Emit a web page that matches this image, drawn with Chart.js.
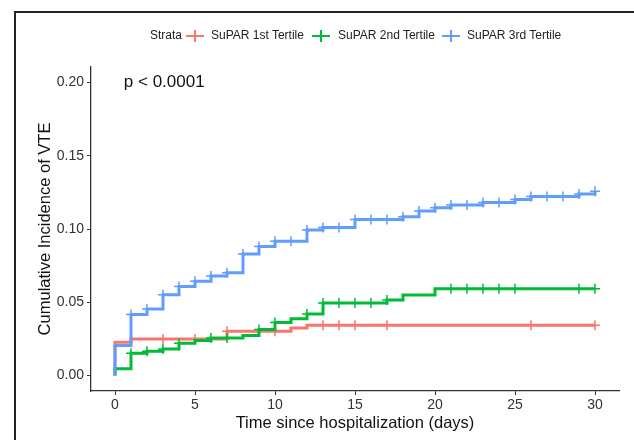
<!DOCTYPE html>
<html lang="en">
<head>
    <meta charset="UTF-8">
    <title>Cumulative Incidence of VTE by SuPAR Tertile</title>
    <script src="https://cdn.jsdelivr.net/npm/chart.js"></script>
    <style>
        body {
            margin: 0;
            background: #fff;
            font-family: "Liberation Sans", Arial, sans-serif;
        }
        .wrap {
            position: relative;
            width: 634px;
            height: 440px;
            overflow: hidden;
        }
        .frame {
            position: absolute;
            left: 14px;
            top: 11px;
            width: 700px;
            height: 500px;
            border-left: 2px solid #222;
            border-top: 2px solid #222;
        }
        .legend {
            position: absolute;
            top: 28px;
            left: 0;
            font-size: 12px;
            color: #222;
        }
        .legend span {
            position: absolute;
            white-space: nowrap;
        }
        .key {
            width: 18px;
            height: 16px;
        }
        .key::before {
            content: "";
            position: absolute;
            left: 0;
            top: 7px;
            width: 18px;
            height: 2px;
            background: var(--c);
        }
        .key::after {
            content: "";
            position: absolute;
            left: 8px;
            top: 2px;
            width: 2px;
            height: 12px;
            background: var(--c);
        }
        canvas {
            position: absolute;
            left: 0;
            top: 0;
        }
    </style>
</head>
<body>
    <div class="wrap">
        <div class="frame"></div>
        <canvas id="km-chart" width="634" height="440"></canvas>
        <div class="legend">
            <span style="left:150px">Strata</span>
            <span class="key" style="left:186px;--c:#F8766D"></span>
            <span style="left:211px">SuPAR 1st Tertile</span>
            <span class="key" style="left:312px;--c:#00BA38"></span>
            <span style="left:338px">SuPAR 2nd Tertile</span>
            <span class="key" style="left:442px;--c:#619CFF"></span>
            <span style="left:467px">SuPAR 3rd Tertile</span>
        </div>
    </div>

    <script>
        // step curves (time, cumulative incidence)
        const t1 = [0, 0, 1, 7, 11, 12, 30];
        const v1 = [0, 0.0227, 0.025, 0.0302, 0.0325, 0.0344, 0.0344];
        const c1 = [3, 5, 7, 10, 13, 14, 15, 17, 26, 30];

        const t2 = [0, 0, 1, 2, 3, 4, 5, 6, 8, 9, 10, 11, 12, 13, 17, 18, 20, 30];
        const v2 = [0, 0.0046, 0.0152, 0.0166, 0.0182, 0.022, 0.0239, 0.0257, 0.0273, 0.0314, 0.0363, 0.0387, 0.0421, 0.0496, 0.0516, 0.055, 0.0592, 0.0592];
        const c2 = [1, 2, 3, 4, 6, 7, 9, 10, 12, 13, 14, 15, 16, 17, 21, 22, 23, 24, 25, 29, 30];

        const t3 = [0, 0, 1, 2, 3, 4, 5, 6, 7, 8, 9, 10, 12, 13, 15, 18, 19, 20, 21, 23, 25, 26, 29, 30];
        const v3 = [0, 0.0205, 0.0416, 0.0455, 0.0552, 0.0607, 0.0643, 0.068, 0.0702, 0.083, 0.088, 0.0916, 0.0993, 0.1011, 0.1064, 0.1084, 0.1123, 0.1145, 0.1164, 0.118, 0.1202, 0.1222, 0.1239, 0.1257];
        const c3 = [1, 2, 3, 4, 5, 6, 7, 8, 9, 10, 11, 12, 13, 14, 15, 16, 17, 18, 19, 20, 21, 22, 23, 24, 25, 26, 27, 28, 29, 30];

        const xTicks = [0, 5, 10, 15, 20, 25, 30];
        const yTicks = [0, 0.05, 0.1, 0.15, 0.2];
        const pText = 'p < 0.0001';

        function pts(ts, vs) {
            return ts.map((t, i) => ({ x: t, y: vs[i] }));
        }
        // censor mark sits on the curve value at that time
        function marks(cs, ts, vs) {
            return cs.map(c => {
                let y = 0;
                ts.forEach((t, i) => { if (t <= c) y = vs[i]; });
                return { x: c, y: y };
            });
        }

        const strata = [
            { t: t1, v: v1, c: c1, color: '#F8766D', order: 2 },
            { t: t2, v: v2, c: c2, color: '#00BA38', order: 1 },
            { t: t3, v: v3, c: c3, color: '#619CFF', order: 0 }
        ];

        const datasets = [];
        strata.forEach(s => {
            datasets.push({
                data: pts(s.t, s.v),
                borderColor: s.color,
                borderWidth: 3,
                stepped: true,
                pointRadius: 0,
                fill: false,
                order: s.order
            });
            datasets.push({
                data: marks(s.c, s.t, s.v),
                showLine: false,
                pointStyle: 'cross',
                pointRadius: 5,
                pointBorderWidth: 1.5,
                borderColor: s.color,
                backgroundColor: s.color,
                order: s.order
            });
        });

        const pValuePlugin = {
            id: 'pvalue',
            afterDraw(chart) {
                const ctx = chart.ctx;
                const x = chart.scales.x.getPixelForValue(0.55);
                const y = chart.scales.y.getPixelForValue(0.2);
                ctx.save();
                ctx.font = '17px "Liberation Sans", Arial, sans-serif';
                ctx.fillStyle = '#111';
                ctx.textBaseline = 'middle';
                ctx.fillText(pText, x, y);
                ctx.restore();
            }
        };

        const tickFont = { family: '"Liberation Sans", Arial, sans-serif', size: 14 };
        const titleFont = { family: '"Liberation Sans", Arial, sans-serif', size: 16.5 };

        new Chart(document.getElementById('km-chart'), {
            type: 'line',
            data: { datasets: datasets },
            options: {
                responsive: false,
                animation: false,
                layout: { padding: { top: 67, right: 15, left: 0, bottom: 0 } },
                plugins: {
                    legend: { display: false },
                    tooltip: { enabled: false }
                },
                scales: {
                    x: {
                        type: 'linear',
                        min: -1.5,
                        max: 31.5,
                        afterBuildTicks: s => { s.ticks = xTicks.map(v => ({ value: v })); },
                        afterFit: s => { s.height = 49; },
                        ticks: { font: tickFont, color: '#333', padding: 2 },
                        grid: { drawOnChartArea: false, tickLength: 4, color: '#333' },
                        border: { color: '#333', width: 1.3 },
                        title: {
                            display: true,
                            text: 'Time since hospitalization (days)',
                            font: titleFont,
                            color: '#111',
                            padding: { top: 0, bottom: 7 }
                        }
                    },
                    y: {
                        min: -0.0105,
                        max: 0.2105,
                        afterBuildTicks: s => { s.ticks = yTicks.map(v => ({ value: v })); },
                        afterFit: s => { s.width = 91; },
                        ticks: {
                            font: tickFont,
                            color: '#333',
                            padding: 3,
                            callback: v => v.toFixed(2)
                        },
                        grid: { drawOnChartArea: false, tickLength: 4, color: '#333' },
                        border: { color: '#333', width: 1.3 },
                        title: {
                            display: true,
                            text: 'Cumulative Incidence of VTE',
                            font: titleFont,
                            color: '#111',
                            padding: { top: 36, bottom: 0 }
                        }
                    }
                }
            },
            plugins: [pValuePlugin]
        });
    </script>
</body>
</html>
